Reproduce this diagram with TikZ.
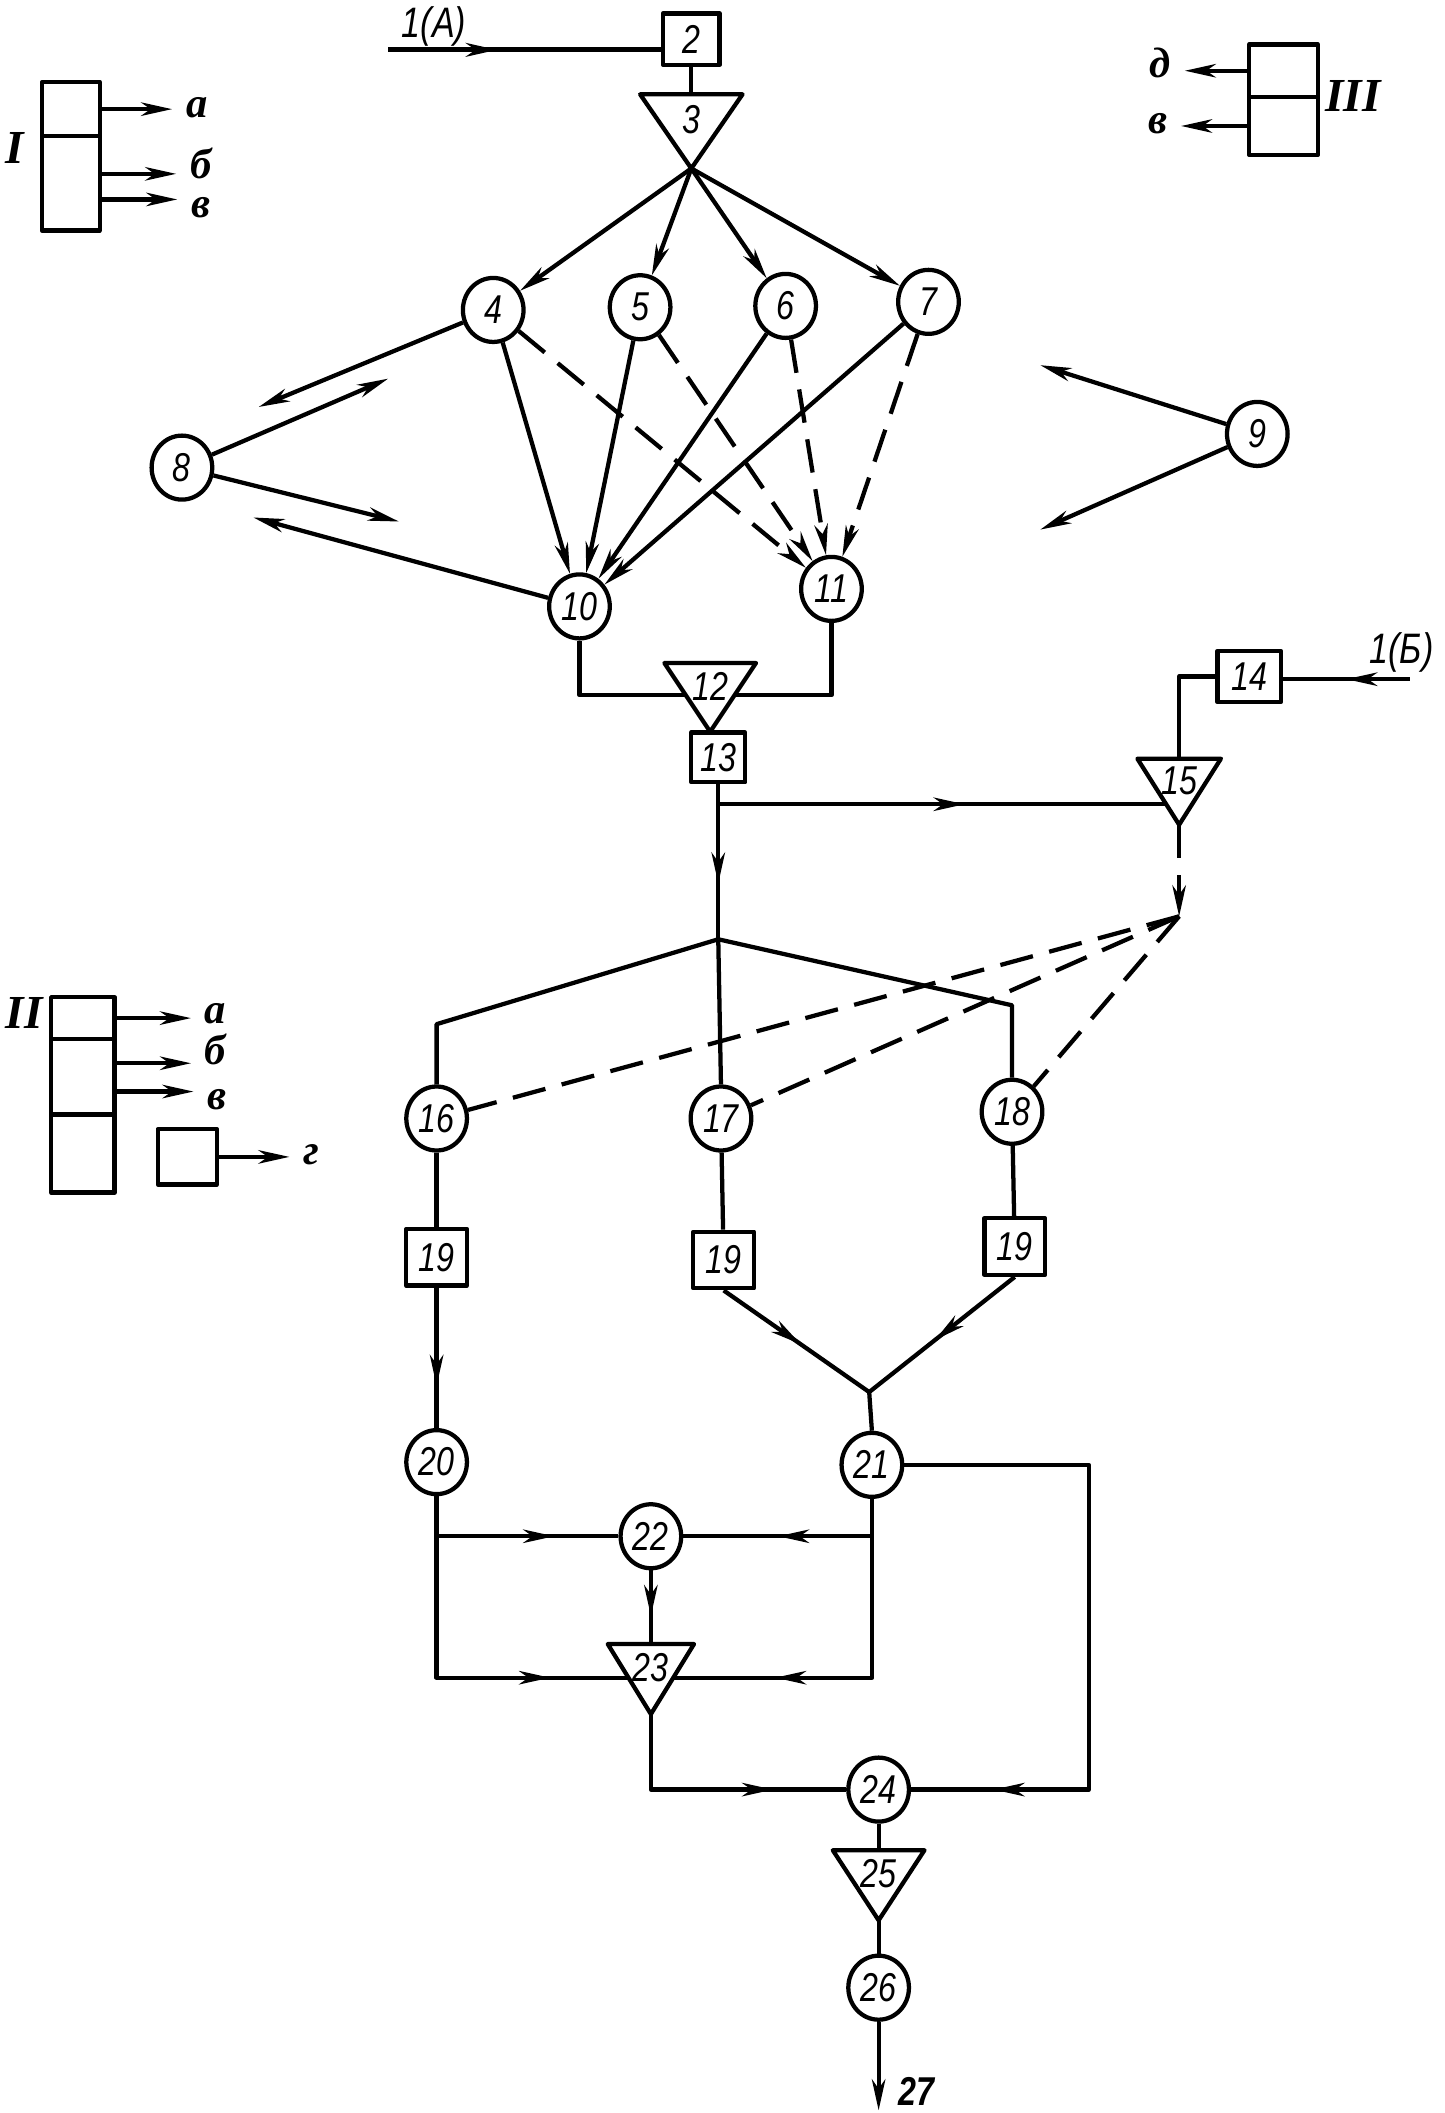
\documentclass[tikz,border=0pt]{standalone}
\usepackage{fontspec}
\usetikzlibrary{arrows.meta,shapes.geometric,decorations.markings,calc}
\newfontfamily\numfam{Liberation Sans}[FakeStretch=0.8]
\newfontfamily\serfam{Liberation Serif}
\newcommand\numf{\numfam\itshape\fontsize{17}{17}\selectfont}
\newcommand\numl{\numfam\itshape\fontsize{18}{18}\selectfont}
\newcommand\cyrf{\serfam\bfseries\itshape\fontsize{18}{18}\selectfont}
\newcommand\romf{\serfam\bfseries\itshape\fontsize{20}{20}\selectfont}
\tikzset{
 myhd/.tip={Stealth[length=0.46cm,width=0.2cm,inset=0.14cm]},
 arr/.style={-myhd},
 mid/.style={postaction={decorate},decoration={markings,mark=at position #1 with {\arrow{myhd}}}},
 dsh/.style={dash pattern=on 0.5cm off 0.25cm},
 circ/.style={ellipse,draw,minimum width=0.9cm,minimum height=0.95cm,inner sep=0pt,font=\numf},
 box/.style={rectangle,draw,inner sep=0pt,font=\numf},
 lab/.style={inner sep=0pt,font=\numf},
 cyr/.style={inner sep=0pt,font=\cyrf},
 rom/.style={inner sep=0pt,font=\romf},
 cell/.style={rectangle,draw,inner sep=0pt},
}
\newcommand\mytri[6]{%
 \coordinate (#1-l) at ({#2-#4},#3);
 \coordinate (#1-r) at ({#2+#4},#3);
 \coordinate (#1-a) at (#2,#5);
 \coordinate (#1-t) at (#2,#3);
 \draw (#1-l) -- (#1-r) -- (#1-a) -- cycle;
 \node[lab] (#1) at (#2,{#3+0.34*(#5-#3)}) {#6};
}
\begin{document}
\begin{tikzpicture}[x=0.02cm,y=-0.02cm,line width=1.8pt,line join=round]
\fill[white] (0,0) rectangle (1072,1568);
\useasboundingbox (0,0) rectangle (1072,1568);

% ---------- legend I ----------
\node[cell,minimum width=0.86cm,minimum height=0.8cm] (I1) at (52.5,81) {};
\node[cell,minimum width=0.86cm,minimum height=1.4cm] (I2) at (52.5,136) {};
\node[rom] (IL) at (11,110) {I};
\node[cyr] (Ia) at (146,80) {а};
\node[cyr] (Ib) at (149,121) {б};
\node[cyr] (Ic) at (149,154) {в};
\coordinate (yIb) at (0,129); \coordinate (yIc) at (0,148);
\coordinate (sIb) at (I2.east |- yIb); \coordinate (sIc) at (I2.east |- yIc);
\draw[arr,shorten >=5pt] (I1.east) -- (I1.east -| Ia.west);
\draw[arr,shorten >=5pt] (sIb) -- (sIb -| Ib.west);
\draw[arr,shorten >=5pt] (sIc) -- (sIc -| Ic.west);

% ---------- legend II ----------
\node[cell,minimum width=0.94cm,minimum height=0.62cm] (II1) at (61.5,755.5) {};
\node[cell,minimum width=0.94cm,minimum height=1.12cm] (II2) at (61.5,799) {};
\node[cell,minimum width=0.94cm,minimum height=1.16cm] (II3) at (61.5,856) {};
\node[cell,minimum width=0.88cm,minimum height=0.82cm] (II4) at (139,858.5) {};
\node[rom] (IIL) at (18,752) {II};
\node[cyr] (IIa) at (160,752) {а};
\node[cyr] (IIb) at (160,779) {б};
\node[cyr] (IIc) at (161,816) {в};
\node[cyr] (IId) at (231,857) {г};
\coordinate (yIIb) at (0,789); \coordinate (yIIc) at (0,810);
\coordinate (sIIb) at (II2.east |- yIIb); \coordinate (sIIc) at (II2.east |- yIIc);
\draw[arr,shorten >=5pt] (II1.east) -- (II1.east -| IIa.west);
\draw[arr,shorten >=5pt] (sIIb) -- (sIIb -| IIb.west);
\draw[arr,shorten >=5pt] (sIIc) -- (sIIc -| IIc.west);
\draw[arr,shorten >=5pt] (II4.east) -- (II4.east -| IId.west);

% ---------- legend III ----------
\node[cell,minimum width=1.02cm,minimum height=0.78cm] (III1) at (952.5,52.5) {};
\node[cell,minimum width=1.02cm,minimum height=0.86cm] (III2) at (952.5,93.5) {};
\node[rom] (IIIL) at (1004,71) {III};
\node[cyr] (IIIa) at (861,47) {д};
\node[cyr] (IIIb) at (859,92) {в};
\draw[arr,shorten >=5pt] (III1.west) -- (III1.west -| IIIa.east);
\draw[arr,shorten >=5pt] (III2.west) -- (III2.west -| IIIb.east);

% ---------- top ----------
\node[box,minimum width=0.84cm,minimum height=0.76cm] (b2) at (513,29) {2};
\coordinate (s1a) at (288,37);
\node[lab,font=\numl] (l1a) at (322,20) {1(А)};
\draw[mid=0.4,line width=2.2pt] (s1a) -- (s1a -| b2.west);
\mytri{t3}{513}{70}{38}{125}{3}
\draw (b2.south) -- (t3-t);
\foreach \n/\x/\y in {4/366/230,5/475/228,6/583/227,7/689/224,8/135/347,9/933/322,10/430/450,11/617/437}
  \node[circ] (c\n) at (\x,\y) {\n};
\foreach \n in {4,5,6,7} \draw[arr] (t3-a) -- (c\n);
\foreach \n in {4,5,6,7} {\draw[arr] (c\n) -- (c10); \draw[arr,dsh] (c\n) -- (c11);}

\coordinate (f1) at (192,302); \draw[arr] (c4) -- (f1);
\coordinate (f2) at (288,281); \draw[arr] (c8) -- (f2);
\coordinate (f3) at (296,387); \draw[arr] (c8) -- (f3);
\coordinate (f4) at (188,384); \draw[arr] (c10) -- (f4);
\coordinate (f5) at (772,271); \draw[arr] (c9) -- (f5);
\coordinate (f6) at (772,393); \draw[arr] (c9) -- (f6);

% ---------- 12 - 15 ----------
\mytri{t12}{527}{492}{34}{543}{12}
\coordinate (e12l) at ($(t12-l)!0.47!(t12-a)$);
\coordinate (e12r) at ($(t12-r)!0.47!(t12-a)$);
\draw (c10.south) |- (e12l);
\draw (c11.south) |- (e12r);
\node[box,minimum width=0.8cm,minimum height=0.74cm] (b13) at (533,562) {13};
\node[box,minimum width=0.94cm,minimum height=0.76cm] (b14) at (927,502) {14};
\coordinate (s1b) at (1046,504);
\node[lab,font=\numl] (l1b) at (1040,484) {1(Б)};
\draw[mid=0.5] (s1b) -- (s1b -| b14.east);
\mytri{t15}{875}{563}{31}{612}{15}
\draw (b14.west) -| (t15-t);
\coordinate (e15l) at ($(t15-l)!0.69!(t15-a)$);
\coordinate (j13) at (b13.south |- e15l);
\draw[mid=0.55] (j13) -- (e15l);
\coordinate (j1) at (533,697);
\draw[mid=0.64] (b13.south) -- (j1);
\coordinate (j2) at (875,680);
\draw[dsh,arr] (t15-a) -- (j2);

% ---------- 16 - 19 ----------
\foreach \n/\x/\y in {16/324/830,17/535/830,18/751/825}
  \node[circ] (c\n) at (\x,\y) {\n};
\coordinate (k16) at (324,760);
\coordinate (k18) at (751,746);
\draw (j1) -- (k16) -- (c16.north);
\draw (j1) -- (c17.north);
\draw (j1) -- (k18) -- (c18.north);
\draw[dsh] (j2) -- (c16);
\draw[dsh] (j2) -- (c17);
\draw[dsh] (j2) -- (c18);
\node[box,minimum width=0.9cm,minimum height=0.84cm] (b19a) at (324,933) {19};
\node[box,minimum width=0.9cm,minimum height=0.84cm] (b19b) at (537,935) {19};
\node[box,minimum width=0.9cm,minimum height=0.84cm] (b19c) at (753,925) {19};
\draw (c16) -- (b19a);
\draw (c17) -- (b19b);
\draw (c18) -- (b19c);

% ---------- 20 - 27 ----------
\foreach \n/\x/\y in {20/324/1085,21/647/1087,22/483/1140,24/652/1328,26/652/1475}
  \node[circ] (c\n) at (\x,\y) {\n};
\draw[mid=0.7] (b19a.south) -- (c20.north);
\coordinate (j3) at (645,1033);
\draw[mid=0.53] (b19b.south) -- (j3);
\draw[mid=0.55] (b19c.south) -- (j3);
\draw (j3) -- (c21.north);
\mytri{t23}{483}{1220}{32}{1272}{23}
\coordinate (e23l) at ($(t23-l)!0.48!(t23-a)$);
\coordinate (e23r) at ($(t23-r)!0.48!(t23-a)$);
\draw[mid=0.71] (c20.south) |- (c22.west);
\draw[mid=0.79] (c20.south) |- (e23l);
\draw[mid=0.58] (c21.south) |- (c22.east);
\draw[mid=0.73] (c21.south) |- (e23r);
\draw[mid=0.62] (c22.south) -- (t23-t);
\coordinate (k21) at (808,1328);
\draw[mid=0.88] (c21.east) -| (k21) -- (c24.east);
\draw[mid=0.73] (t23-a) |- (c24.west);
\mytri{t25}{652}{1373}{34}{1425}{25}
\draw (c24.south) -- (t25-t);
\draw (t25-a) -- (c26.north);
\coordinate (e27) at (652,1566);
\draw[arr] (c26.south) -- (e27);
\node[lab,font=\numf\bfseries] (l27) at (680,1552) {27};
\end{tikzpicture}
\end{document}
